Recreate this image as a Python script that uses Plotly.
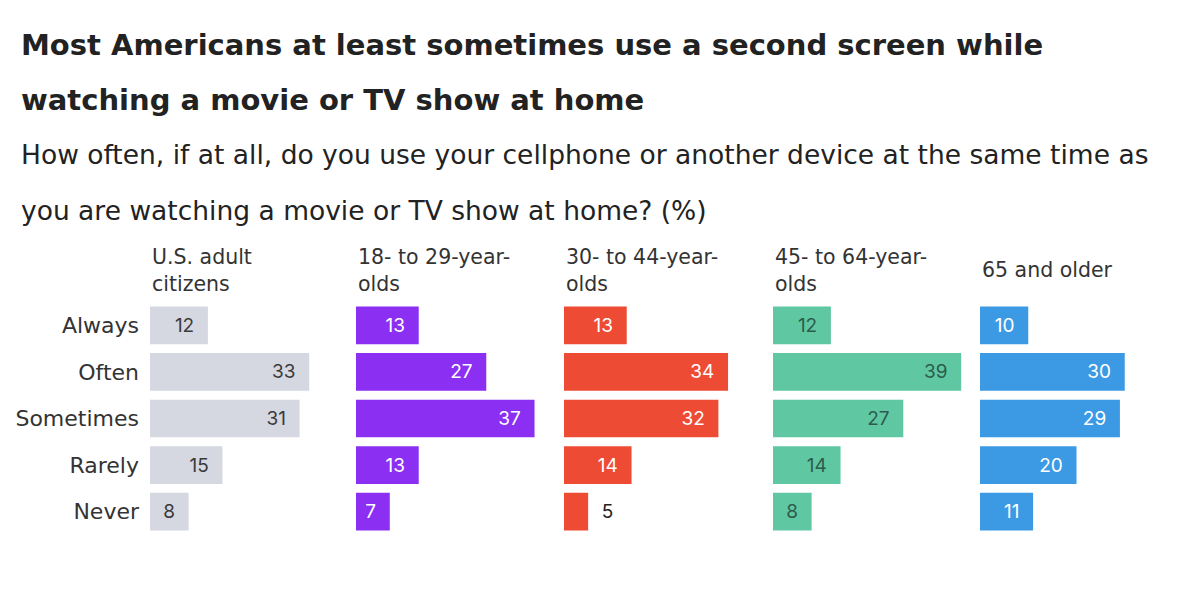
import plotly.graph_objects as go

W, H = 1200, 589

categories = ["Always", "Often", "Sometimes", "Rarely", "Never"]
groups = ["U.S. adult<br>citizens", "18- to 29-year-<br>olds", "30- to 44-year-<br>olds",
          "45- to 64-year-<br>olds", "65 and older"]
us_adults = [12, 33, 31, 15, 8]
age_18_29 = [13, 27, 37, 13, 7]
age_30_44 = [13, 34, 32, 14, 5]
age_45_64 = [12, 39, 27, 14, 8]
age_65_up = [10, 30, 29, 20, 11]
series = [us_adults, age_18_29, age_30_44, age_45_64, age_65_up]

colors = ["#d5d7e1", "#8b2ff2", "#ee4b35", "#5fc8a3", "#3c9ae5"]
text_colors = ["#3a3a3a", "#ffffff", "#ffffff", "#2d5c4c", "#ffffff"]

title_lines = ["Most Americans at least sometimes use a second screen while",
               "watching a movie or TV show at home"]
subtitle_lines = ["How often, if at all, do you use your cellphone or another device at the same time as",
                  "you are watching a movie or TV show at home? (%)"]

FONT = "DejaVu Sans, Inter, sans-serif"
VFONT = "Inter, Roboto, Arial, sans-serif"
panel_left = [150, 356, 564, 773, 980]
panel_w = 193
xmax = 40
ytop, ybot = 302, 535

fig = go.Figure()
layout = dict(
    width=W, height=H, margin=dict(l=0, r=0, t=0, b=0),
    paper_bgcolor="white", plot_bgcolor="white", showlegend=False,
    bargap=0.19, font=dict(family=FONT, color="#222"),
)
annotations = []
for i, vals in enumerate(series):
    n = "" if i == 0 else str(i + 1)
    min_inside = 6
    texts, positions = [], []
    for v in vals:
        if v >= min_inside:
            texts.append(f"{v}\u00a0\u00a0")
            positions.append("inside")
        else:
            texts.append(f"\u00a0\u00a0{v}")
            positions.append("outside")
    fig.add_trace(go.Bar(
        x=vals, y=categories, orientation="h",
        marker=dict(color=colors[i], line=dict(width=0)),
        text=texts, textposition=positions, insidetextanchor="end",
        insidetextfont=dict(color=text_colors[i], size=19, family=VFONT),
        outsidetextfont=dict(color="#222", size=19, family=VFONT),
        constraintext="none", cliponaxis=False,
        xaxis="x" + n, yaxis="y" + n, hoverinfo="skip",
    ))
    x0 = panel_left[i] / W
    x1 = (panel_left[i] + panel_w) / W
    layout["xaxis" + n] = dict(domain=[x0, x1], range=[0, xmax], visible=False,
                               anchor="y" + n)
    layout["yaxis" + n] = dict(domain=[1 - ybot / H, 1 - ytop / H], anchor="x" + n,
                               autorange="reversed", showgrid=False, zeroline=False,
                               showline=False, ticks="", showticklabels=(i == 0),
                               ticklabelstandoff=10,
                               tickfont=dict(size=22, color="#333", family=FONT))
    annotations.append(dict(
        text=groups[i], x=x0, y=1 - 270 / H, xref="paper", yref="paper",
        xanchor="left", yanchor="middle", align="left", showarrow=False,
        font=dict(size=20.5, color="#333", family=FONT),
    ))

for j, (line, yc) in enumerate(zip(title_lines, [45, 100])):
    annotations.append(dict(text=f"<b>{line}</b>", x=19 / W, y=1 - yc / H, xref="paper",
                            yref="paper", xanchor="left", yanchor="middle", showarrow=False,
                            font=dict(size=29, color="#222", family=FONT)))
for j, (line, yc) in enumerate(zip(subtitle_lines, [155, 210])):
    annotations.append(dict(text=line, x=19 / W, y=1 - yc / H, xref="paper",
                            yref="paper", xanchor="left", yanchor="middle", showarrow=False,
                            font=dict(size=26.5, color="#222", family=FONT)))

layout["annotations"] = annotations
fig.update_layout(**layout)
fig.write_html("out.html")
